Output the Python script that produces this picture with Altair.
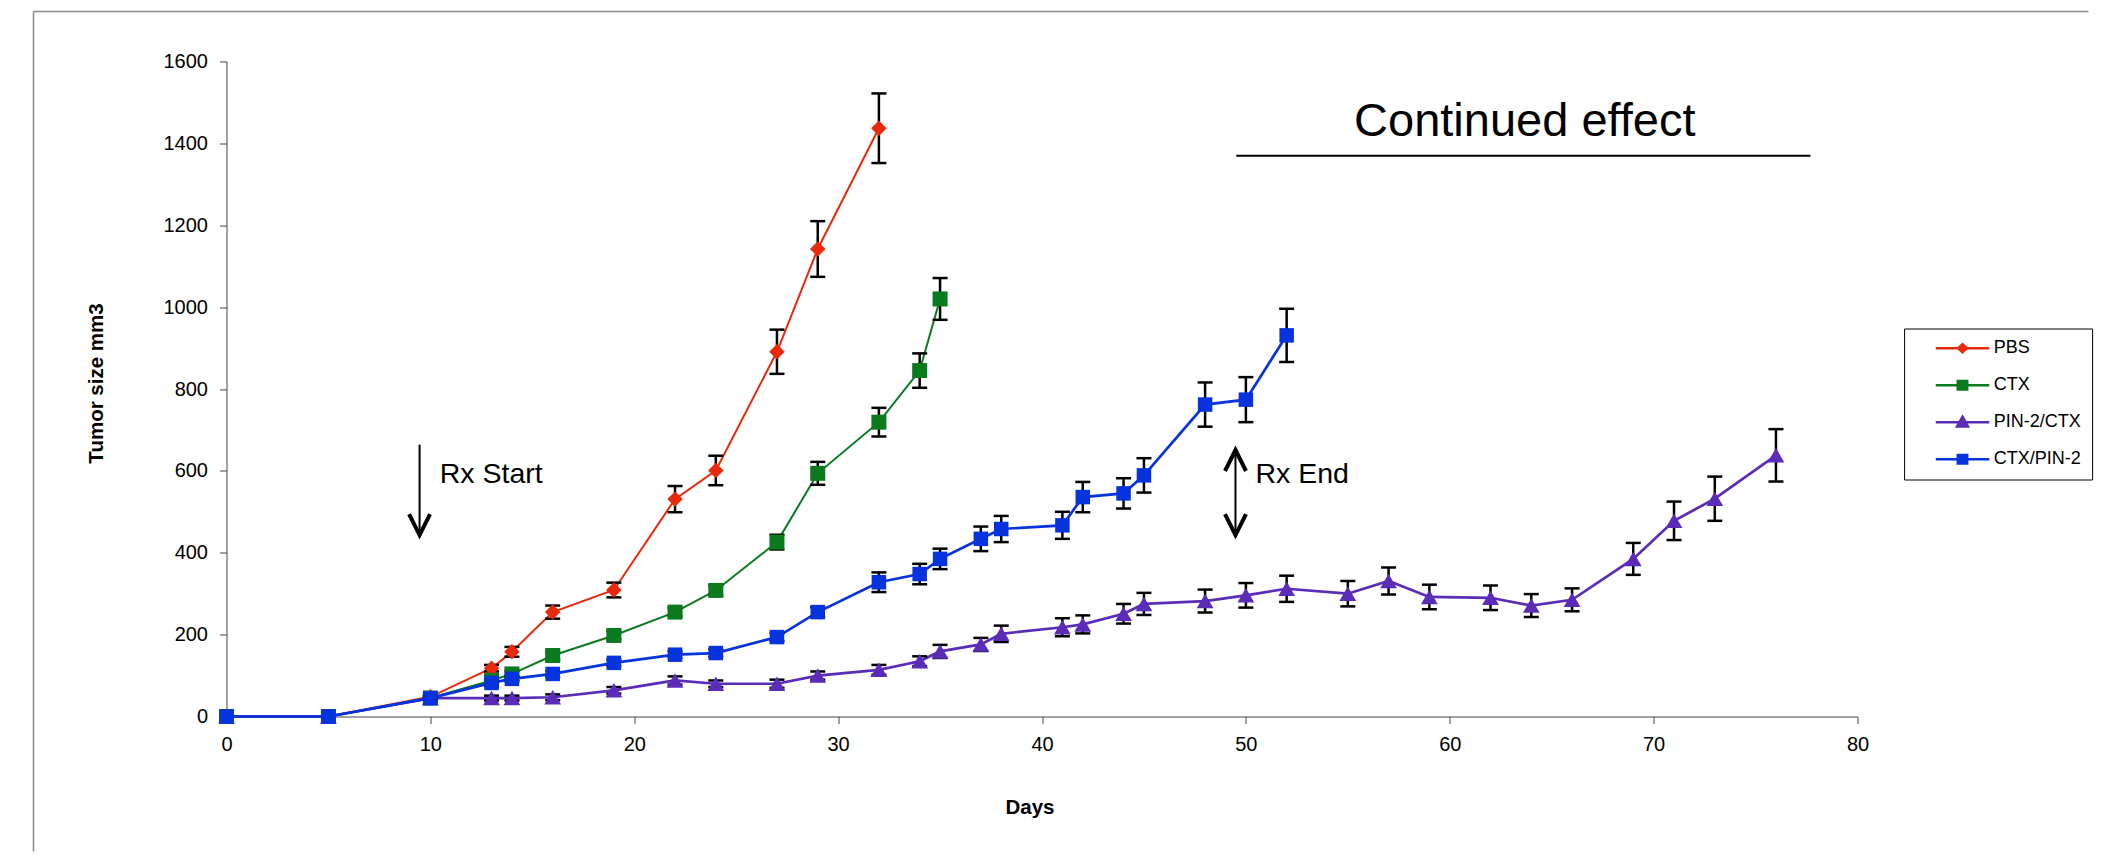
import altair as alt
import pandas as pd

FONT = "Liberation Sans"

# ---------------- data ----------------
series_names = ["PBS", "CTX", "PIN-2/CTX", "CTX/PIN-2"]
series_colors = ["#E8290B", "#0A7A1F", "#5A2CB8", "#0633DD"]

pbs_days = [0, 5, 10, 13, 14, 16, 19, 22, 24, 27, 29, 32]
pbs_vals = [0, 0, 48, 118, 158, 255, 309, 531, 601, 891, 1142, 1437]
pbs_err = [0, 0, 5, 8, 12, 16, 18, 32, 36, 54, 68, 85]

ctx_days = [0, 5, 10, 13, 14, 16, 19, 22, 24, 27, 29, 32, 34, 35]
ctx_vals = [0, 0, 45, 88, 104, 149, 198, 255, 308, 426, 594, 719, 845, 1020]
ctx_err = [0, 0, 4, 6, 8, 9, 10, 10, 12, 18, 28, 35, 42, 51]

pin_days = [0, 5, 10, 13, 14, 16, 19, 22, 24, 27, 29, 32, 34, 35, 37, 38, 41, 42,
            44, 45, 48, 50, 52, 55, 57, 59, 62, 64, 66, 69, 71, 73, 76]
pin_vals = [0, 0, 45, 45, 45, 47, 64, 88, 80, 80, 100, 114, 135, 159, 176, 202, 218, 225,
            251, 275, 282, 296, 312, 300, 331, 292, 290, 271, 285, 385, 478, 532, 638]
pin_err = [0, 0, 4, 6, 6, 7, 8, 10, 8, 10, 10, 12, 12, 16, 16, 20, 22, 22,
           24, 27, 28, 30, 32, 31, 33, 30, 30, 28, 28, 39, 47, 54, 64]

cp_days = [0, 5, 10, 13, 14, 16, 19, 22, 24, 27, 29, 32, 34, 35, 37, 38, 41, 42,
           44, 45, 48, 50, 52]
cp_vals = [0, 0, 45, 82, 92, 104, 131, 151, 155, 194, 255, 328, 348, 385, 434, 458, 467, 536,
           545, 589, 762, 774, 931]
cp_err = [0, 0, 4, 6, 6, 7, 8, 8, 9, 10, 12, 24, 25, 25, 30, 32, 33, 37,
          37, 42, 54, 55, 65]

x_ticks = [0, 10, 20, 30, 40, 50, 60, 70, 80]
y_ticks = [0, 200, 400, 600, 800, 1000, 1200, 1400, 1600]

# annotations (data coordinates)
label_texts = ["Rx Start", "Rx End"]
label_days = [10.46, 50.47]
label_vals = [570, 571]

shaft_days = [9.47, 49.49]
shaft_top = [664, 651]
shaft_bottom = [443, 443]

down_head_days = [9.47, 49.49]
down_head_vals = [443, 443]
up_head_days = [49.49]
up_head_vals = [651]

cont_text = ["Continued effect"]
cont_day = [63.68]
cont_val = [1417]
cont_line_start = [49.53]
cont_line_end = [77.69]
cont_line_val = [1370]

# ---------------- styles ----------------
marker_shapes = ["diamond", "square", "triangle-up", "square"]
marker_sizes = [240, 225, 280, 210]
line_widths = [2.0, 2.0, 2.7, 2.7]

legend_line = "M-2.675,0L2.675,0"
legend_paths = [
    legend_line + "M0,-0.4L0.43,0L0,0.4L-0.43,0Z",
    legend_line + "M-0.47,-0.42L0.47,-0.42L0.47,0.42L-0.47,0.42Z",
    legend_line + "M0,-0.55L0.55,0.42L-0.55,0.42Z",
    legend_line + "M-0.47,-0.42L0.47,-0.42L0.47,0.42L-0.47,0.42Z",
]

xscale = alt.Scale(domain=[0, 80], nice=False, zero=False)
yscale = alt.Scale(domain=[0, 1600], nice=False, zero=False)

xaxis = alt.Axis(
    values=x_ticks, format="d", grid=False,
    labelFont=FONT, labelFontSize=20, labelColor="#000000", labelPadding=11,
    labelFlush=False, labelOverlap=False,
    tickSize=7, tickColor="#444444", tickWidth=1,
    domainColor="#444444", domainWidth=1,
    titleFont=FONT, titleFontSize=20.5, titleFontWeight="bold", titleColor="#000000",
    titleX=803, titleY=97, titleAlign="center", titleBaseline="alphabetic",
)
yaxis = alt.Axis(
    values=y_ticks, format="d", grid=False,
    labelFont=FONT, labelFontSize=20, labelColor="#000000", labelPadding=12,
    labelFlush=False, labelOverlap=False,
    tickSize=7, tickColor="#444444", tickWidth=1,
    domainColor="#444444", domainWidth=1,
    titleFont=FONT, titleFontSize=20.5, titleFontWeight="bold", titleColor="#000000",
    titleX=-124.5, titleY=321.5, titleAlign="center", titleBaseline="alphabetic",
)


def X(field):
    return alt.X(f"{field}:Q", scale=xscale, axis=xaxis, title="Days")


def Y(field):
    return alt.Y(f"{field}:Q", scale=yscale, axis=yaxis, title="Tumor size mm3")


layers = []

# outer frame (decoration)
one = pd.DataFrame({"k": [0]})
layers.append(alt.Chart(one).mark_rule(color="#8c8c8c", strokeWidth=1.5).encode(
    x=alt.value(-193), y=alt.value(-50), y2=alt.value(790)))
layers.append(alt.Chart(one).mark_rule(color="#8c8c8c", strokeWidth=1.5).encode(
    x=alt.value(-193), x2=alt.value(1862), y=alt.value(-50)))

series_data = [
    (pbs_days, pbs_vals, pbs_err),
    (ctx_days, ctx_vals, ctx_err),
    (pin_days, pin_vals, pin_err),
    (cp_days, cp_vals, cp_err),
]

for i, (days, vals, errs) in enumerate(series_data):
    df = pd.DataFrame({"day": days, "v": vals, "e": errs})
    df["lo"] = df["v"] - df["e"]
    df["hi"] = df["v"] + df["e"]
    dfe = df[df["e"] > 0]
    col = series_colors[i]
    layers.append(alt.Chart(df).mark_line(color=col, strokeWidth=line_widths[i]).encode(
        x=X("day"), y=Y("v")))
    layers.append(alt.Chart(dfe).mark_rule(color="black", strokeWidth=2.5).encode(
        x=X("day"), y=Y("lo"), y2=alt.Y2("hi:Q")))
    for f in ["lo", "hi"]:
        layers.append(alt.Chart(dfe).mark_tick(color="black", thickness=2.5, size=15,
                                               orient="horizontal", opacity=1).encode(
            x=X("day"), y=Y(f)))
    layers.append(alt.Chart(df).mark_point(filled=True, shape=marker_shapes[i],
                                           size=marker_sizes[i], color=col, opacity=1).encode(
        x=X("day"), y=Y("v")))

# annotations
shafts = pd.DataFrame({"d": shaft_days, "t": shaft_top, "b": shaft_bottom})
layers.append(alt.Chart(shafts).mark_rule(color="black", strokeWidth=2).encode(
    x=X("d"), y=Y("b"), y2=alt.Y2("t:Q")))
downs = pd.DataFrame({"d": down_head_days, "v": down_head_vals})
layers.append(alt.Chart(downs).mark_point(shape="M-1,-2L0,0L1,-2", filled=False, size=441,
                                          stroke="black", strokeWidth=4, strokeJoin="miter",
                                          opacity=1).encode(x=X("d"), y=Y("v")))
ups = pd.DataFrame({"d": up_head_days, "v": up_head_vals})
layers.append(alt.Chart(ups).mark_point(shape="M-1,2L0,0L1,2", filled=False, size=441,
                                        stroke="black", strokeWidth=4, strokeJoin="miter",
                                        opacity=1).encode(x=X("d"), y=Y("v")))
labels = pd.DataFrame({"d": label_days, "v": label_vals, "t": label_texts})
layers.append(alt.Chart(labels).mark_text(align="left", baseline="alphabetic", font=FONT,
                                          fontSize=28.5, color="black").encode(
    x=X("d"), y=Y("v"), text="t:N"))
cont = pd.DataFrame({"d": cont_day, "v": cont_val, "t": cont_text})
layers.append(alt.Chart(cont).mark_text(align="center", baseline="alphabetic", font=FONT,
                                        fontSize=47, color="black").encode(
    x=X("d"), y=Y("v"), text="t:N"))
cline = pd.DataFrame({"a": cont_line_start, "b": cont_line_end, "v": cont_line_val})
layers.append(alt.Chart(cline).mark_rule(color="black", strokeWidth=2).encode(
    x=X("a"), x2=alt.X2("b:Q"), y=Y("v")))

# legend (through fill/stroke/shape scales of an invisible layer)
legend = alt.Legend(
    title=None, orient="none", legendX=1677.6, legendY=267, padding=10.7,
    strokeColor="black", fillColor="white",
    labelFont=FONT, labelFontSize=18, labelColor="black",
    symbolSize=400, symbolStrokeWidth=2.5, symbolOpacity=1,
    symbolOffset=36.2, labelOffset=19.7, clipHeight=18, rowPadding=19,
)
leg_df = pd.DataFrame({"lg": series_names, "x": [-100] * 4, "y": [-100] * 4})
layers.append(alt.Chart(leg_df).mark_point(filled=True, opacity=0, strokeWidth=2.5,
                                           clip=True).encode(
    x=X("x"), y=Y("y"),
    fill=alt.Fill("lg:N", scale=alt.Scale(domain=series_names, range=series_colors), legend=legend),
    stroke=alt.Stroke("lg:N", scale=alt.Scale(domain=series_names, range=series_colors), legend=legend),
    shape=alt.Shape("lg:N", scale=alt.Scale(domain=series_names, range=legend_paths), legend=legend),
))

chart = alt.layer(*layers).properties(
    width=1631, height=655,
    padding={"left": 24.5, "top": 2.5, "right": 0, "bottom": 0},
    background="white",
).configure_view(stroke=None)

chart.save("out.html", embed_options={"renderer": "svg", "actions": False})
